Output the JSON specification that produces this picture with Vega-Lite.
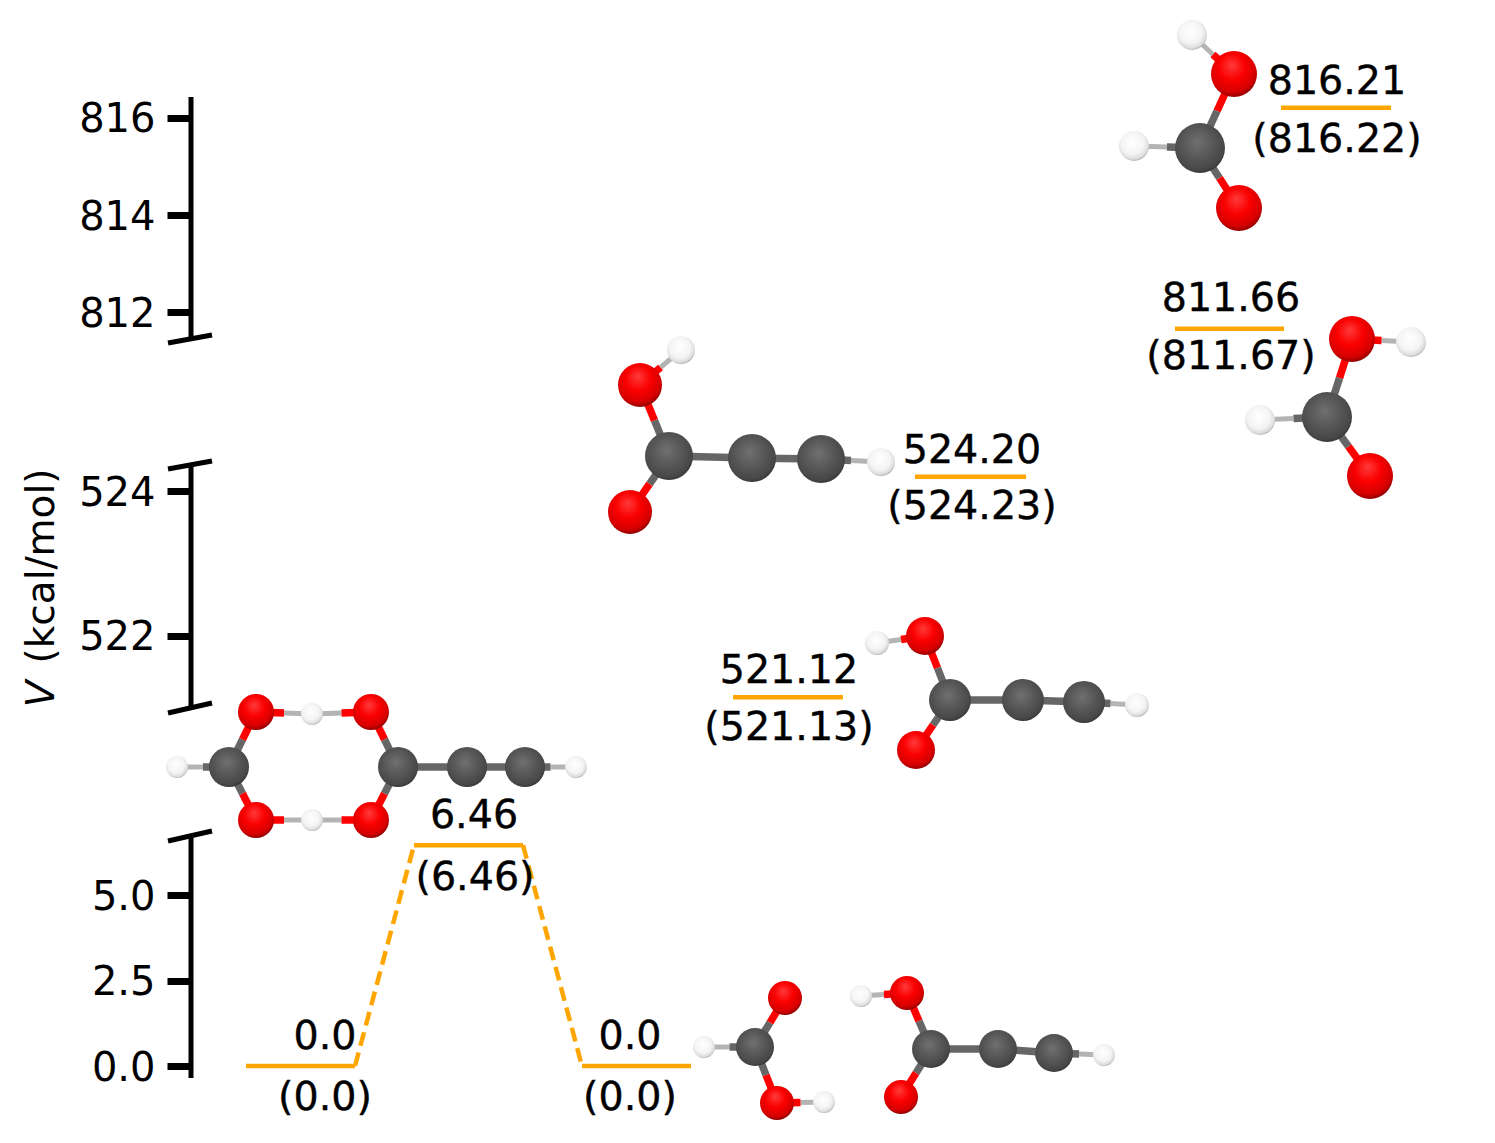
{
"$schema":"https://vega.github.io/schema/vega-lite/v6.json",
"width":1305,"height":1143,
"autosize":{"type":"none"},
"padding":{"left":190,"top":0,"right":0,"bottom":0},
"background":"white",
"view":{"stroke":null},
"datasets":{
"axisSegments":[{"x":1.91,"from":816.43,"to":811.43},{"x":1.91,"from":524.35,"to":521.0},{"x":1.91,"from":6.67,"to":-0.35}],
"levels":[
{"x":2.46,"x2":3.55,"v":0},{"x":4.14,"x2":5.23,"v":6.46},{"x":5.82,"x2":6.91,"v":0},
{"x":7.33,"x2":8.43,"v":521.15},{"x":9.15,"x2":10.26,"v":524.2},{"x":11.75,"x2":12.84,"v":811.66},{"x":12.81,"x2":13.91,"v":816.21}],
"connectors":[{"x":3.55,"x2":4.14,"v":0,"v2":6.46},{"x":5.23,"x2":5.82,"v":6.46,"v2":0}],
"breaks":[
{"x":1.68,"x2":2.12,"y":3.43,"y2":3.35},
{"x":1.68,"x2":2.12,"y":4.69,"y2":4.61},
{"x":1.68,"x2":2.12,"y":7.13,"y2":7.03},
{"x":1.68,"x2":2.12,"y":8.41,"y2":8.31}],
"labels":[
{"t":"816.21","x":13.37,"y":0.94},{"t":"(816.22)","x":13.37,"y":1.52},
{"t":"811.66","x":12.31,"y":3.11},{"t":"(811.67)","x":12.31,"y":3.69},
{"t":"524.20","x":9.72,"y":4.63},{"t":"(524.23)","x":9.72,"y":5.19},
{"t":"521.12","x":7.89,"y":6.83},{"t":"(521.13)","x":7.89,"y":7.4},
{"t":"6.46","x":4.74,"y":8.28},{"t":"(6.46)","x":4.75,"y":8.9},
{"t":"0.0","x":3.25,"y":10.49},{"t":"(0.0)","x":3.25,"y":11.1},
{"t":"0.0","x":6.3,"y":10.49},{"t":"(0.0)","x":6.3,"y":11.1}],
"bonds":[
{"e":"O","x":12.34,"y":0.74,"x2":12.13,"y2":0.545},{"e":"H","x":11.92,"y":0.35,"x2":12.13,"y2":0.545},
{"e":"O","x":12.34,"y":0.74,"x2":12.17,"y2":1.11},{"e":"C","x":12.0,"y":1.48,"x2":12.17,"y2":1.11},
{"e":"C","x":12.0,"y":1.48,"x2":11.67,"y2":1.47},{"e":"H","x":11.34,"y":1.46,"x2":11.67,"y2":1.47},
{"e":"C","x":12.0,"y":1.48,"x2":12.195,"y2":1.78},{"e":"O","x":12.39,"y":2.08,"x2":12.195,"y2":1.78},

{"e":"O","x":13.52,"y":3.39,"x2":13.815,"y2":3.405},{"e":"H","x":14.11,"y":3.42,"x2":13.815,"y2":3.405},
{"e":"O","x":13.52,"y":3.39,"x2":13.395,"y2":3.78},{"e":"C","x":13.27,"y":4.17,"x2":13.395,"y2":3.78},
{"e":"C","x":13.27,"y":4.17,"x2":12.935,"y2":4.185},{"e":"H","x":12.6,"y":4.2,"x2":12.935,"y2":4.185},
{"e":"C","x":13.27,"y":4.17,"x2":13.485,"y2":4.465},{"e":"O","x":13.7,"y":4.76,"x2":13.485,"y2":4.465},

{"e":"O","x":6.4,"y":3.85,"x2":6.605,"y2":3.675},{"e":"H","x":6.81,"y":3.5,"x2":6.605,"y2":3.675},
{"e":"O","x":6.4,"y":3.85,"x2":6.545,"y2":4.205},{"e":"C","x":6.69,"y":4.56,"x2":6.545,"y2":4.205},
{"e":"C","x":6.69,"y":4.56,"x2":6.495,"y2":4.84},{"e":"O","x":6.3,"y":5.12,"x2":6.495,"y2":4.84},
{"e":"C","x":6.69,"y":4.56,"x2":7.52,"y2":4.58},{"e":"C","x":7.52,"y":4.58,"x2":8.21,"y2":4.59},
{"e":"C","x":8.21,"y":4.59,"x2":8.51,"y2":4.605},{"e":"H","x":8.81,"y":4.62,"x2":8.51,"y2":4.605},

{"e":"O","x":9.25,"y":6.36,"x2":9.01,"y2":6.395},{"e":"H","x":8.77,"y":6.43,"x2":9.01,"y2":6.395},
{"e":"O","x":9.25,"y":6.36,"x2":9.375,"y2":6.68},{"e":"C","x":9.5,"y":7.0,"x2":9.375,"y2":6.68},
{"e":"C","x":9.5,"y":7.0,"x2":9.33,"y2":7.25},{"e":"O","x":9.16,"y":7.5,"x2":9.33,"y2":7.25},
{"e":"C","x":9.5,"y":7.0,"x2":10.23,"y2":7.0},{"e":"C","x":10.23,"y":7.0,"x2":10.84,"y2":7.02},
{"e":"C","x":10.84,"y":7.02,"x2":11.105,"y2":7.035},{"e":"H","x":11.37,"y":7.05,"x2":11.105,"y2":7.035},

{"e":"H","x":1.77,"y":7.67,"x2":2.03,"y2":7.67},{"e":"C","x":2.29,"y":7.67,"x2":2.03,"y2":7.67},
{"e":"C","x":2.29,"y":7.67,"x2":2.425,"y2":7.395},{"e":"O","x":2.56,"y":7.12,"x2":2.425,"y2":7.395},
{"e":"C","x":2.29,"y":7.67,"x2":2.425,"y2":7.935},{"e":"O","x":2.56,"y":8.2,"x2":2.425,"y2":7.935},
{"e":"O","x":2.56,"y":7.12,"x2":2.84,"y2":7.13},{"e":"H","x":3.12,"y":7.14,"x2":2.84,"y2":7.13},
{"e":"H","x":3.12,"y":7.14,"x2":3.415,"y2":7.13},{"e":"O","x":3.71,"y":7.12,"x2":3.415,"y2":7.13},
{"e":"O","x":2.56,"y":8.2,"x2":2.84,"y2":8.2},{"e":"H","x":3.12,"y":8.2,"x2":2.84,"y2":8.2},
{"e":"H","x":3.12,"y":8.2,"x2":3.415,"y2":8.2},{"e":"O","x":3.71,"y":8.2,"x2":3.415,"y2":8.2},
{"e":"O","x":3.71,"y":7.12,"x2":3.845,"y2":7.395},{"e":"C","x":3.98,"y":7.67,"x2":3.845,"y2":7.395},
{"e":"O","x":3.71,"y":8.2,"x2":3.845,"y2":7.935},{"e":"C","x":3.98,"y":7.67,"x2":3.845,"y2":7.935},
{"e":"C","x":3.98,"y":7.67,"x2":4.67,"y2":7.67},{"e":"C","x":4.67,"y":7.67,"x2":5.25,"y2":7.67},
{"e":"C","x":5.25,"y":7.67,"x2":5.505,"y2":7.67},{"e":"H","x":5.76,"y":7.67,"x2":5.505,"y2":7.67},

{"e":"C","x":7.55,"y":10.47,"x2":7.7,"y2":10.225},{"e":"O","x":7.85,"y":9.98,"x2":7.7,"y2":10.225},
{"e":"C","x":7.55,"y":10.47,"x2":7.295,"y2":10.47},{"e":"H","x":7.04,"y":10.47,"x2":7.295,"y2":10.47},
{"e":"C","x":7.55,"y":10.47,"x2":7.66,"y2":10.75},{"e":"O","x":7.77,"y":11.03,"x2":7.66,"y2":10.75},
{"e":"O","x":7.77,"y":11.03,"x2":8.005,"y2":11.025},{"e":"H","x":8.24,"y":11.02,"x2":8.005,"y2":11.025},

{"e":"O","x":9.07,"y":9.93,"x2":8.84,"y2":9.945},{"e":"H","x":8.61,"y":9.96,"x2":8.84,"y2":9.945},
{"e":"O","x":9.07,"y":9.93,"x2":9.19,"y2":10.21},{"e":"C","x":9.31,"y":10.49,"x2":9.19,"y2":10.21},
{"e":"C","x":9.31,"y":10.49,"x2":9.16,"y2":10.73},{"e":"O","x":9.01,"y":10.97,"x2":9.16,"y2":10.73},
{"e":"C","x":9.31,"y":10.49,"x2":9.98,"y2":10.49},{"e":"C","x":9.98,"y":10.49,"x2":10.54,"y2":10.53},
{"e":"C","x":10.54,"y":10.53,"x2":10.79,"y2":10.54},{"e":"H","x":11.04,"y":10.55,"x2":10.79,"y2":10.54}
],
"atoms":[
{"e":"O","atom":"O-a","x":12.34,"y":0.74},{"e":"H","atom":"H-a","x":11.92,"y":0.35},{"e":"C","atom":"C-a","x":12.0,"y":1.48},{"e":"H","atom":"H-a","x":11.34,"y":1.46},{"e":"O","atom":"O-a","x":12.39,"y":2.08},
{"e":"O","atom":"O-a","x":13.52,"y":3.39},{"e":"H","atom":"H-a","x":14.11,"y":3.42},{"e":"C","atom":"C-a","x":13.27,"y":4.17},{"e":"H","atom":"H-a","x":12.6,"y":4.2},{"e":"O","atom":"O-a","x":13.7,"y":4.76},
{"e":"O","atom":"O-b","x":6.4,"y":3.85},{"e":"H","atom":"H-b","x":6.81,"y":3.5},{"e":"C","atom":"C-b","x":6.69,"y":4.56},{"e":"C","atom":"C-b","x":7.52,"y":4.58},{"e":"C","atom":"C-b","x":8.21,"y":4.59},{"e":"H","atom":"H-b","x":8.81,"y":4.62},{"e":"O","atom":"O-b","x":6.3,"y":5.12},
{"e":"O","atom":"O-c","x":9.25,"y":6.36},{"e":"H","atom":"H-c","x":8.77,"y":6.43},{"e":"C","atom":"C-c","x":9.5,"y":7.0},{"e":"C","atom":"C-c","x":10.23,"y":7.0},{"e":"C","atom":"C-c","x":10.84,"y":7.02},{"e":"H","atom":"H-c","x":11.37,"y":7.05},{"e":"O","atom":"O-c","x":9.16,"y":7.5},
{"e":"O","atom":"O-d","x":2.56,"y":7.12},{"e":"H","atom":"H-d","x":3.12,"y":7.14},{"e":"O","atom":"O-d","x":3.71,"y":7.12},{"e":"H","atom":"H-d","x":1.77,"y":7.67},{"e":"C","atom":"C-d","x":2.29,"y":7.67},{"e":"C","atom":"C-d","x":3.98,"y":7.67},{"e":"C","atom":"C-d","x":4.67,"y":7.67},{"e":"C","atom":"C-d","x":5.25,"y":7.67},{"e":"H","atom":"H-d","x":5.76,"y":7.67},{"e":"O","atom":"O-d","x":2.56,"y":8.2},{"e":"H","atom":"H-d","x":3.12,"y":8.2},{"e":"O","atom":"O-d","x":3.71,"y":8.2},
{"e":"O","atom":"O-e","x":7.85,"y":9.98},{"e":"H","atom":"H-e","x":7.04,"y":10.47},{"e":"C","atom":"C-e","x":7.55,"y":10.47},{"e":"O","atom":"O-e","x":7.77,"y":11.03},{"e":"H","atom":"H-e","x":8.24,"y":11.02},
{"e":"O","atom":"O-e","x":9.07,"y":9.93},{"e":"H","atom":"H-e","x":8.61,"y":9.96},{"e":"C","atom":"C-e","x":9.31,"y":10.49},{"e":"C","atom":"C-e","x":9.98,"y":10.49},{"e":"C","atom":"C-e","x":10.54,"y":10.53},{"e":"H","atom":"H-e","x":11.04,"y":10.55},{"e":"O","atom":"O-e","x":9.01,"y":10.97}
]
},
"resolve":{"scale":{"y":"independent"}},
"encoding":{
"x":{"field":"x","type":"quantitative","title":null,"axis":null,"scale":{"domain":[1.9,14.95],"range":[0,1305],"nice":false,"zero":false}}
},
"layer":[
{"layer":[
{"data":{"name":"axisSegments"},"mark":{"type":"rule","stroke":"black","strokeWidth":5},
"encoding":{"y":{"field":"from","type":"quantitative","title":null,
"scale":{"domain":[-0.35,6.67,521,524.35,811.43,816.43],"range":[1078,838,708,466,340,97],"nice":false,"zero":false},
"axis":{"orient":"left","values":[0,2.5,5,522,524,812,814,816],"domain":false,"grid":false,"ticks":true,"tickSize":23,"tickWidth":7,"tickColor":"black","labelFont":"DejaVu Sans","labelFontSize":40,"labelColor":"black","labelPadding":12,"labelOffset":2,"labelOverlap":false,"labelFlush":false,"labelBound":false,"title":null,"labelExpr":"datum.value < 10 ? format(datum.value,'.1f') : format(datum.value,'d')"}},
"y2":{"field":"to"}}},
{"data":{"name":"connectors"},"mark":{"type":"rule","stroke":"#ffa500","strokeWidth":4.5,"strokeDash":[14,7]},
"encoding":{"x2":{"field":"x2"},"y":{"field":"v","type":"quantitative"},"y2":{"field":"v2"}}},
{"data":{"name":"levels"},"mark":{"type":"rule","stroke":"#ffa500","strokeWidth":4.5},
"encoding":{"x2":{"field":"x2"},"y":{"field":"v","type":"quantitative"}}}
]},
{"layer":[
{"data":{"name":"breaks"},"mark":{"type":"rule","stroke":"black","strokeWidth":5},
"encoding":{"x2":{"field":"x2"},"y":{"field":"y","type":"quantitative","axis":null,"title":null,"scale":{"domain":[0,11.43],"range":[0,1143],"nice":false,"zero":false}},"y2":{"field":"y2"}}},
{"data":{"name":"labels"},"mark":{"type":"text","font":"DejaVu Sans","fontSize":39.6,"color":"black","stroke":"black","strokeWidth":0.4,"align":"center","baseline":"alphabetic"},
"encoding":{"y":{"field":"y","type":"quantitative"},"text":{"field":"t"}}},
{"data":{"values":[{"t":"V","x":0.54,"y":6.94}]},"mark":{"type":"text","font":"DejaVu Sans","fontSize":39,"fontStyle":"italic","color":"black","align":"center","baseline":"alphabetic","angle":270},
"encoding":{"y":{"field":"y","type":"quantitative"},"text":{"field":"t"}}},
{"data":{"values":[{"t":"(kcal/mol)","x":0.54,"y":5.66}]},"mark":{"type":"text","font":"DejaVu Sans","fontSize":39,"color":"black","align":"center","baseline":"alphabetic","angle":270},
"encoding":{"y":{"field":"y","type":"quantitative"},"text":{"field":"t"}}},
{"data":{"name":"bonds"},"transform":[{"filter":"datum.e === 'H'"}],"mark":{"type":"rule","strokeWidth":5},
"encoding":{"x2":{"field":"x2"},"y":{"field":"y","type":"quantitative"},"y2":{"field":"y2"},
"color":{"field":"e","type":"nominal","legend":null,"scale":{"domain":["C","O","H"],"range":["#666666","#ff0000","#b4b4b4"]}}}},
{"data":{"name":"bonds"},"transform":[{"filter":"datum.e !== 'H'"}],"mark":{"type":"rule","strokeWidth":7.5},
"encoding":{"x2":{"field":"x2"},"y":{"field":"y","type":"quantitative"},"y2":{"field":"y2"},
"color":{"field":"e","type":"nominal","legend":null,"scale":{"domain":["C","O","H"],"range":["#666666","#ff0000","#b4b4b4"]}}}},
{"data":{"name":"atoms"},"transform":[{"filter":"datum.e === 'C'"}],
"mark":{"type":"circle","opacity":1,"fill":{"gradient":"radial","x1":0.45,"y1":0.38,"r1":0,"x2":0.46,"y2":0.42,"r2":0.62,"stops":[{"offset":0,"color":"#707070"},{"offset":0.5,"color":"#575757"},{"offset":0.85,"color":"#474747"},{"offset":1,"color":"#2e2e2e"}]}},
"encoding":{"y":{"field":"y","type":"quantitative"},
"size":{"field":"atom","type":"nominal","legend":null,"scale":{"type":"ordinal","domain":["C-a","O-a","H-a","C-b","O-b","H-b","C-c","O-c","H-c","C-d","O-d","H-d","C-e","O-e","H-e"],"range":[2500,2116,900,2304,1936,784,1764,1444,576,1600,1296,484,1444,1156,484]}}}},
{"data":{"name":"atoms"},"transform":[{"filter":"datum.e === 'O'"}],
"mark":{"type":"circle","opacity":1,"fill":{"gradient":"radial","x1":0.45,"y1":0.3,"r1":0,"x2":0.46,"y2":0.4,"r2":0.64,"stops":[{"offset":0,"color":"#ff3a3a"},{"offset":0.45,"color":"#fa0000"},{"offset":0.8,"color":"#d60000"},{"offset":1,"color":"#7a0000"}]}},
"encoding":{"y":{"field":"y","type":"quantitative"},
"size":{"field":"atom","type":"nominal","legend":null,"scale":{"type":"ordinal","domain":["C-a","O-a","H-a","C-b","O-b","H-b","C-c","O-c","H-c","C-d","O-d","H-d","C-e","O-e","H-e"],"range":[2500,2116,900,2304,1936,784,1764,1444,576,1600,1296,484,1444,1156,484]}}}},
{"data":{"name":"atoms"},"transform":[{"filter":"datum.e === 'H'"}],
"mark":{"type":"circle","opacity":1,"fill":{"gradient":"radial","x1":0.45,"y1":0.38,"r1":0,"x2":0.46,"y2":0.42,"r2":0.62,"stops":[{"offset":0,"color":"#ffffff"},{"offset":0.6,"color":"#f4f4f4"},{"offset":0.85,"color":"#dcdcdc"},{"offset":1,"color":"#9a9a9a"}]}},
"encoding":{"y":{"field":"y","type":"quantitative"},
"size":{"field":"atom","type":"nominal","legend":null,"scale":{"type":"ordinal","domain":["C-a","O-a","H-a","C-b","O-b","H-b","C-c","O-c","H-c","C-d","O-d","H-d","C-e","O-e","H-e"],"range":[2500,2116,900,2304,1936,784,1764,1444,576,1600,1296,484,1444,1156,484]}}}}
]}
]
}
